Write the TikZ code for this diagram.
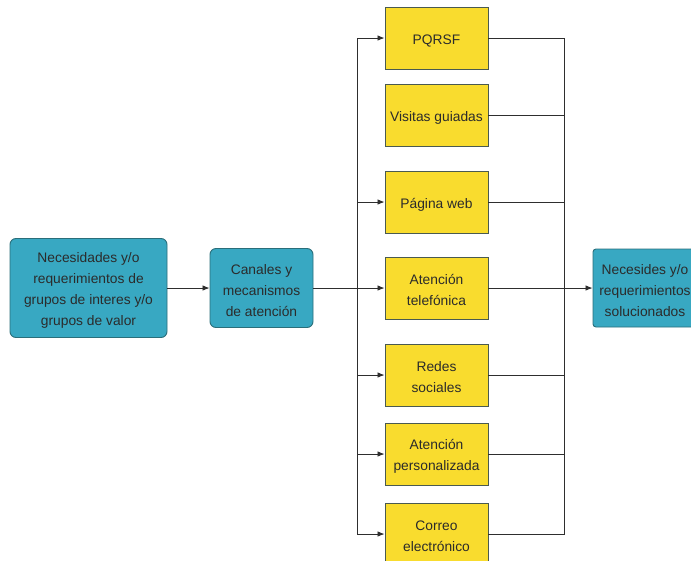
\documentclass[tikz,border=0pt]{standalone}
\usepackage{fontspec}
\setmainfont{Liberation Sans}
\usetikzlibrary{arrows.meta}
\definecolor{tealfill}{HTML}{38A8C2}
\definecolor{tealdraw}{HTML}{2A6E7A}
\definecolor{yelfill}{HTML}{F9DC2E}
\definecolor{yeldraw}{HTML}{4A5A50}
\definecolor{txt}{HTML}{2B2B2B}
\definecolor{ln}{HTML}{2E2E2E}
\newcommand{\strtop}{\rule{0pt}{15pt}}
\newcommand{\strbot}{\rule[-1pt]{0pt}{1pt}}
\tikzset{
  tealbox/.style={draw=tealdraw, fill=tealfill, rounded corners=6pt, line width=0.9pt,
    align=center, text=txt, font=\fontsize{13.8}{21}\selectfont, inner sep=0pt},
  yelbox/.style={draw=yeldraw, fill=yelfill, line width=0.9pt, minimum width=103pt,
    minimum height=62pt, align=center, text=txt, font=\fontsize{13.8}{21}\selectfont, inner sep=0pt},
  conn/.style={draw=ln, line width=0.8pt},
  arr/.style={conn, -{Latex[length=7pt,width=5.5pt]}}
}
\begin{document}
\begin{tikzpicture}[x=1pt,y=-1pt]
\useasboundingbox (0,0) rectangle (691,560);
\node[tealbox, minimum width=157pt, minimum height=99pt] (need) at (88.5,288)
  {\strtop Necesidades y/o\\requerimientos de\\grupos de interes y/o\\grupos de valor\strbot};
\node[tealbox, minimum width=103pt, minimum height=79pt] (can) at (261.5,288)
  {\strtop Canales y\\mecanismos\\de atención\strbot};
\node[yelbox] (b1) at (436.5,38) {\strtop PQRSF\strbot};
\node[yelbox] (b2) at (436.5,115) {\strtop Visitas guiadas\strbot};
\node[yelbox] (b3) at (436.5,202) {\strtop Página web\strbot};
\node[yelbox] (b4) at (436.5,288) {\strtop Atención\\telefónica\strbot};
\node[yelbox] (b5) at (436.5,375) {\strtop Redes\\sociales\strbot};
\node[yelbox] (b6) at (436.5,454) {\strtop Atención\\personalizada\strbot};
\node[yelbox] (b7) at (436.5,534) {\strtop Correo\\electrónico\strbot};
\node[tealbox, rounded corners=3pt, minimum width=104pt, minimum height=78pt] (out) at (645,288)
  {\strtop Necesides y/o\\requerimientos\\solucionados\strbot};
\coordinate (jl) at (357,288);
\coordinate (jr) at (564,288);
\draw[arr] (need.east) -- (can.west);
\draw[arr] (can.east) -- (b4.west);
\draw[arr] (jl) |- (b1.west);
\draw[arr] (jl) |- (b3.west);
\draw[arr] (jl) |- (b5.west);
\draw[arr] (jl) |- (b6.west);
\draw[arr] (jl) |- (b7.west);
\draw[conn] (b1.east) -| (jr);
\draw[conn] (b2.east) -| (jr);
\draw[conn] (b3.east) -| (jr);
\draw[conn] (b5.east) -| (jr);
\draw[conn] (b6.east) -| (jr);
\draw[conn] (b7.east) -| (jr);
\draw[arr] (b4.east) -- (out.west);
\end{tikzpicture}
\end{document}
